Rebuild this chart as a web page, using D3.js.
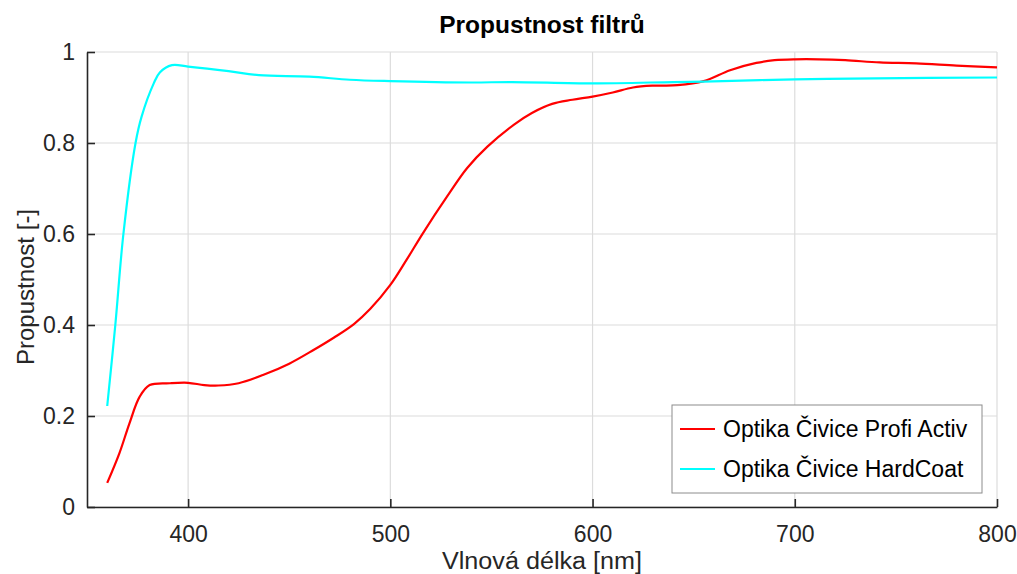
<!DOCTYPE html>
<html lang="cs">
<head>
<meta charset="utf-8">
<script src="https://cdn.jsdelivr.net/npm/d3@7"></script>
<style>
    body { margin: 0; background: #fff; }
    svg { font-family: "Liberation Sans", Arial, sans-serif; }
</style>
</head>
<body>
<script>
// wavelength [nm] and transmission for each filter
const redX = [360, 366, 371, 376, 381, 391, 400, 408, 415, 425, 437, 450, 462, 472, 482, 490, 500, 508, 516, 528, 538, 548, 561, 570, 580, 590, 600, 610, 620, 630, 642, 655, 668, 681, 690, 700, 712, 725, 742, 760, 780, 800];
const redY = [0.053, 0.118, 0.184, 0.242, 0.268, 0.272, 0.273, 0.268, 0.267, 0.272, 0.29, 0.315, 0.345, 0.372, 0.402, 0.435, 0.488, 0.543, 0.601, 0.682, 0.745, 0.792, 0.840, 0.866, 0.886, 0.895, 0.902, 0.911, 0.922, 0.926, 0.927, 0.936, 0.96, 0.976, 0.982, 0.984, 0.984, 0.982, 0.977, 0.975, 0.97, 0.966];
const cyanX = [360, 364, 368, 374, 377, 383, 386, 392, 400, 420, 435, 460, 480, 500, 540, 560, 600, 640, 655, 700, 740, 800];
const cyanY = [0.222, 0.4, 0.6, 0.8, 0.858, 0.931, 0.955, 0.971, 0.968, 0.958, 0.949, 0.946, 0.939, 0.936, 0.933, 0.934, 0.931, 0.934, 0.935, 0.94, 0.942, 0.944];
const seriesNames = ["Optika Čivice Profi Activ", "Optika Čivice HardCoat"];
const seriesColors = ["#ff0000", "#00ffff"];
const xTicks = [400, 500, 600, 700, 800];
const yTicks = [0, 0.2, 0.4, 0.6, 0.8, 1];

const W = 1017, H = 574;
const m = {left: 87, right: 20, top: 52, bottom: 67};

const svg = d3.select("body").append("svg")
    .attr("width", W).attr("height", H);

const x = d3.scaleLinear().domain([350, 800]).range([m.left, W - m.right]);
const y = d3.scaleLinear().domain([0, 1]).range([H - m.bottom, m.top]);

// grid
svg.append("g").selectAll("line").data(xTicks).enter().append("line")
    .attr("x1", d => x(d)).attr("x2", d => x(d))
    .attr("y1", y(0)).attr("y2", y(1))
    .attr("stroke", "#dcdcdc").attr("stroke-width", 1.2);
svg.append("g").selectAll("line").data(yTicks).enter().append("line")
    .attr("x1", x(350)).attr("x2", x(800))
    .attr("y1", d => y(d)).attr("y2", d => y(d))
    .attr("stroke", "#dcdcdc").attr("stroke-width", 1.2);

// axes
const xAxis = d3.axisBottom(x).tickValues(xTicks).tickSizeInner(-8).tickSizeOuter(0).tickPadding(19);
const yAxis = d3.axisLeft(y).tickValues(yTicks).tickSizeInner(-8).tickSizeOuter(0).tickPadding(12)
    .tickFormat(d => d === 0 || d === 1 ? d : d.toFixed(1));

const gx = svg.append("g").attr("transform", "translate(0," + y(0) + ")").call(xAxis);
const gy = svg.append("g").attr("transform", "translate(" + x(350) + ",0)").call(yAxis);
[gx, gy].forEach(g => {
    g.select(".domain").attr("stroke", "#262626").attr("stroke-width", 1.6);
    g.selectAll(".tick line").attr("stroke", "#262626").attr("stroke-width", 1.6);
    g.selectAll(".tick text").attr("fill", "#262626")
        .style("font-size", "23px").style("font-family", "Liberation Sans, Arial, sans-serif");
});
gx.selectAll(".tick text").attr("dy", "0.71em");

// curves
const line = d3.line().x(d => x(d[0])).y(d => y(d[1])).curve(d3.curveCatmullRom.alpha(0.5));
const series = [d3.zip(redX, redY), d3.zip(cyanX, cyanY)];
svg.append("g").selectAll("path").data(series).enter().append("path")
    .attr("d", line)
    .attr("fill", "none")
    .attr("stroke", (d, i) => seriesColors[i])
    .attr("stroke-width", 2.2);

// title and labels
svg.append("text").attr("x", (x(350) + x(800)) / 2).attr("y", 33)
    .attr("text-anchor", "middle").style("font-size", "24.5px").style("font-weight", "bold")
    .text("Propustnost filtrů");
svg.append("text").attr("x", (x(350) + x(800)) / 2).attr("y", 569)
    .attr("text-anchor", "middle").attr("fill", "#262626").style("font-size", "23px")
    .attr("textLength", 200).attr("lengthAdjust", "spacingAndGlyphs")
    .text("Vlnová délka [nm]");
svg.append("text")
    .attr("transform", "translate(34," + 287 + ") rotate(-90)")
    .attr("text-anchor", "middle").attr("fill", "#262626").style("font-size", "24px")
    .text("Propustnost [-]");

// legend
const lg = svg.append("g").attr("transform", "translate(672,405)");
lg.append("rect").attr("width", 310).attr("height", 88)
    .attr("fill", "#fff").attr("stroke", "#8c8c8c").attr("stroke-width", 1);
seriesNames.forEach((name, i) => {
    const yy = 24 + i * 40;
    lg.append("line").attr("x1", 8).attr("x2", 43).attr("y1", yy).attr("y2", yy)
        .attr("stroke", seriesColors[i]).attr("stroke-width", 2.2);
    lg.append("text").attr("x", 51).attr("y", yy).attr("dy", "0.35em")
        .style("font-size", "23px").attr("fill", "#000").text(name);
});
</script>
</body>
</html>
